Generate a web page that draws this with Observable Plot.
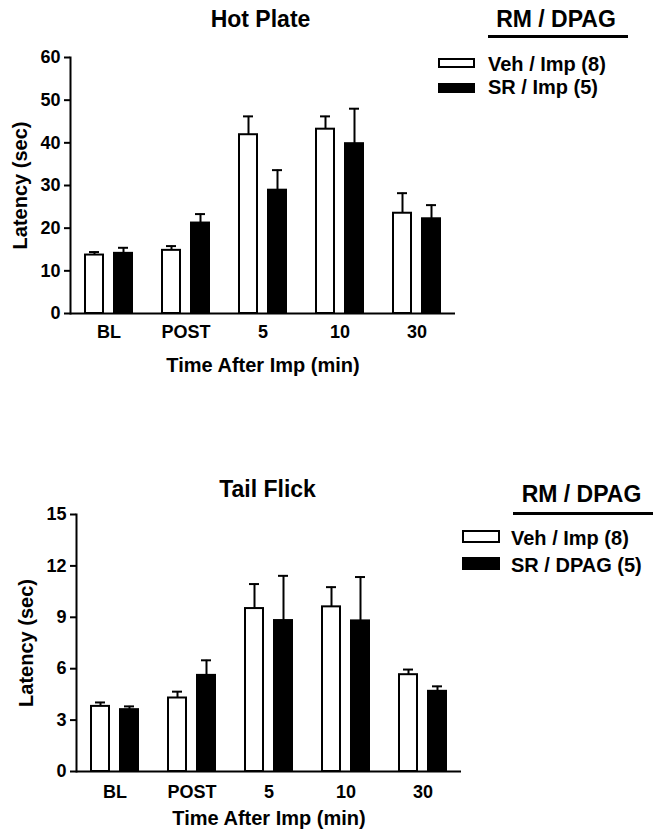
<!DOCTYPE html>
<html>
<head>
<meta charset="utf-8">
<script src="https://cdn.jsdelivr.net/npm/d3@7"></script>
<script src="https://cdn.jsdelivr.net/npm/@observablehq/plot@0.6"></script>
<style>
  html, body { margin: 0; padding: 0; background: #fff; }
  #wrap { position: relative; width: 660px; height: 834px; font-family: "Liberation Sans", Arial, sans-serif; font-weight: bold; color: #000; }
  .txt { position: absolute; white-space: nowrap; line-height: 1; }
  .sw { position: absolute; box-sizing: border-box; border: 2px solid #000; }
  .ul { position: absolute; height: 3px; background: #000; }
  g[aria-label="y-axis label"] text, g[aria-label="fx-axis label"] text { font-size: 20px; }
</style>
</head>
<body>
<div id="wrap"></div>
<script>
const categories = ["BL", "POST", "5", "10", "30"];
const groupKeys = ["Veh", "SR"];

// Hot Plate (sec)
const hotVeh = [13.7, 14.8, 41.9, 43.2, 23.5];
const hotVehSem = [0.7, 1.0, 4.3, 3.0, 4.7];
const hotSR = [14.1, 21.2, 28.9, 39.8, 22.2];
const hotSRSem = [1.3, 2.1, 4.7, 8.2, 3.2];
const hotTicks = [0, 10, 20, 30, 40, 50, 60];

// Tail Flick (sec)
const tailVeh = [3.80, 4.29, 9.51, 9.61, 5.65];
const tailVehSem = [0.23, 0.37, 1.43, 1.15, 0.30];
const tailSR = [3.61, 5.61, 8.81, 8.79, 4.68];
const tailSRSem = [0.19, 0.88, 2.61, 2.56, 0.29];
const tailTicks = [0, 3, 6, 9, 12, 15];

const legendHeader = "RM / DPAG";
const hotLegend = ["Veh / Imp (8)", "SR / Imp (5)"];
const tailLegend = ["Veh / Imp (8)", "SR / DPAG (5)"];

function rows(veh, vehSem, sr, srSem) {
  const out = [];
  categories.forEach((c, i) => {
    out.push({cat: c, grp: "Veh", mean: veh[i], sem: vehSem[i]});
    out.push({cat: c, grp: "SR", mean: sr[i], sem: srSem[i]});
  });
  return out;
}

function chart({data, domain, ticks, height, mt, mb, ml, mr, tickPad, labelOffset}) {
  return Plot.plot({
    width: 660, height,
    marginTop: mt, marginBottom: mb, marginLeft: ml, marginRight: mr,
    style: {fontFamily: "'Liberation Sans', Arial, sans-serif", fontWeight: "bold", fontSize: "18px", color: "#000", background: "transparent", overflow: "visible"},
    fx: {domain: categories, padding: 0},
    x: {domain: groupKeys, paddingInner: 0.38, paddingOuter: 0.5, axis: null},
    y: {domain, axis: null, labelArrow: "none"},
    marks: [
      Plot.ruleX(data, {fx: "cat", x: "grp", y1: "mean", y2: d => d.mean + d.sem, stroke: "#000", strokeWidth: 2}),
      Plot.tickY(data, {fx: "cat", x: "grp", y: d => d.mean + d.sem, stroke: "#000", strokeWidth: 2, insetLeft: 4, insetRight: 4}),
      Plot.barY(data, {fx: "cat", x: "grp", y: "mean", fill: d => d.grp === "Veh" ? "#fff" : "#000", stroke: "#000", strokeWidth: 2}),
      Plot.ruleY([0], {stroke: "#000", strokeWidth: 2}),
      Plot.frame({anchor: "left", facetAnchor: "left", stroke: "#000", strokeWidth: 2}),
      Plot.axisY({ticks, tickSize: 6, tickPadding: 4, strokeWidth: 2, label: "Latency (sec)", labelArrow: "none", labelAnchor: "center", labelOffset: 58}),
      Plot.axisFx({anchor: "bottom", tickSize: 0, tickPadding: tickPad, label: "Time After Imp (min)", labelArrow: "none", labelAnchor: "center", labelOffset})
    ]
  });
}

const wrap = document.getElementById("wrap");

const topChart = chart({data: rows(hotVeh, hotVehSem, hotSR, hotSRSem), domain: [0, 60], ticks: hotTicks,
  height: 400, mt: 57, mb: 87, ml: 70, mr: 205, tickPad: 12, labelOffset: 58});
topChart.style.position = "absolute"; topChart.style.left = "0px"; topChart.style.top = "0px";
wrap.appendChild(topChart);

const botChart = chart({data: rows(tailVeh, tailVehSem, tailSR, tailSRSem), domain: [0, 15], ticks: tailTicks,
  height: 434, mt: 114, mb: 63, ml: 74, mr: 198, tickPad: 14, labelOffset: 53});
botChart.style.position = "absolute"; botChart.style.left = "0px"; botChart.style.top = "400px";
wrap.appendChild(botChart);

function text(str, {x, baseline, size, anchor = "start"}) {
  const d = document.createElement("div");
  d.className = "txt";
  d.textContent = str;
  d.style.fontSize = size + "px";
  d.style.top = (baseline - 0.8465 * size) + "px";
  if (anchor === "middle") { d.style.left = (x - 200) + "px"; d.style.width = "400px"; d.style.textAlign = "center"; }
  else d.style.left = x + "px";
  wrap.appendChild(d);
}
function box(x, y, w, h, fill) {
  const d = document.createElement("div");
  d.className = "sw";
  Object.assign(d.style, {left: x + "px", top: y + "px", width: w + "px", height: h + "px", background: fill});
  wrap.appendChild(d);
}
function line(x1, x2, y) {
  const d = document.createElement("div");
  d.className = "ul";
  Object.assign(d.style, {left: x1 + "px", top: (y - 1.5) + "px", width: (x2 - x1) + "px"});
  wrap.appendChild(d);
}

// Titles
text("Hot Plate", {x: 260.5, baseline: 27, size: 23, anchor: "middle"});
text("Tail Flick", {x: 267.5, baseline: 497, size: 23, anchor: "middle"});

// Legend top
text(legendHeader, {x: 556, baseline: 27, size: 23, anchor: "middle"});
line(488, 628, 36);
box(438, 58, 37, 10, "#fff");
text(hotLegend[0], {x: 488, baseline: 71, size: 20});
box(438, 83, 37, 10, "#000");
text(hotLegend[1], {x: 488, baseline: 94, size: 20});

// Legend bottom
text(legendHeader, {x: 581.5, baseline: 502, size: 23, anchor: "middle"});
line(513, 653, 513);
box(462, 530, 38, 13, "#fff");
text(tailLegend[0], {x: 511, baseline: 545, size: 20});
box(462, 557, 38, 13, "#000");
text(tailLegend[1], {x: 511, baseline: 571.5, size: 20});
</script>
</body>
</html>
